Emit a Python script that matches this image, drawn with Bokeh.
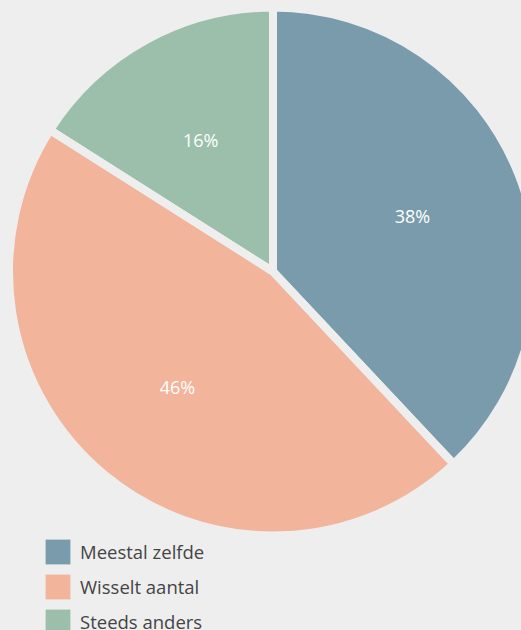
import math
from bokeh.plotting import figure
from bokeh.models import Range1d, Legend, LegendItem, ColumnDataSource
from bokeh.embed import file_html
from bokeh.resources import INLINE
from bokeh.core.properties import value

# ---- data ----
categories = ["Meestal zelfde", "Wisselt aantal", "Steeds anders"]
values = [38, 46, 16]
pct_labels = ["38%", "46%", "16%"]
colors = ["#7a9bac", "#f2b49b", "#9bbfab"]

# ---- layout ----
W, H = 521, 630
BG = "#eeeeee"
FONT = "Open Sans"

p = figure(width=W, height=H, output_backend="svg", toolbar_location=None,
           x_range=Range1d(0, W), y_range=Range1d(0, H), min_border=0)
p.axis.visible = False
p.grid.visible = False
p.outline_line_color = None
p.background_fill_color = BG
p.border_fill_color = BG

cx, cy = 272.5, H - 271.0
R = 264.0
GAP = 8

total = float(sum(values))
starts, ends, mids = [], [], []
acc = 0.0
for v in values:
    a0 = math.pi / 2 - 2 * math.pi * acc / total
    acc += v
    a1 = math.pi / 2 - 2 * math.pi * acc / total
    starts.append(a1)
    ends.append(a0)
    mids.append((a0 + a1) / 2)

src = ColumnDataSource(dict(x=[cx] * len(values), y=[cy] * len(values),
                            start=starts, end=ends, color=colors))
fill_r = p.wedge(x="x", y="y", radius=R, start_angle="start", end_angle="end",
                 fill_color="color", line_color=None, source=src)
# separating gaps in background colour
p.wedge(x="x", y="y", radius=R, start_angle="start", end_angle="end",
        fill_alpha=0, line_color=BG, line_width=GAP, source=src)

LR = 150.0
lab_src = ColumnDataSource(dict(
    x=[cx + LR * math.cos(m) for m in mids],
    y=[cy + LR * math.sin(m) for m in mids],
    t=pct_labels))
p.text(x="x", y="y", text="t", source=lab_src, text_align="center",
       text_baseline="middle", text_color="white",
       text_font=value(FONT), text_font_size="18px")

items = [LegendItem(label=cat, renderers=[fill_r], index=i)
         for i, cat in enumerate(categories)]

SW = 31  # legend swatch box (drawn swatch is 80% of this)
legend = Legend(items=items, location=(42, -7), orientation="vertical",
                glyph_width=SW, glyph_height=SW, spacing=4, padding=0, margin=0,
                label_standoff=7, border_line_color=None, background_fill_alpha=0,
                label_text_font=FONT, label_text_font_size="18.5px",
                label_text_color="#444444")
p.add_layout(legend)

html = file_html(p, INLINE)
html = html.replace("<head>", "<head><style>html,body{background:#eeeeee;}</style>", 1)
open("out.html", "w").write(html)
